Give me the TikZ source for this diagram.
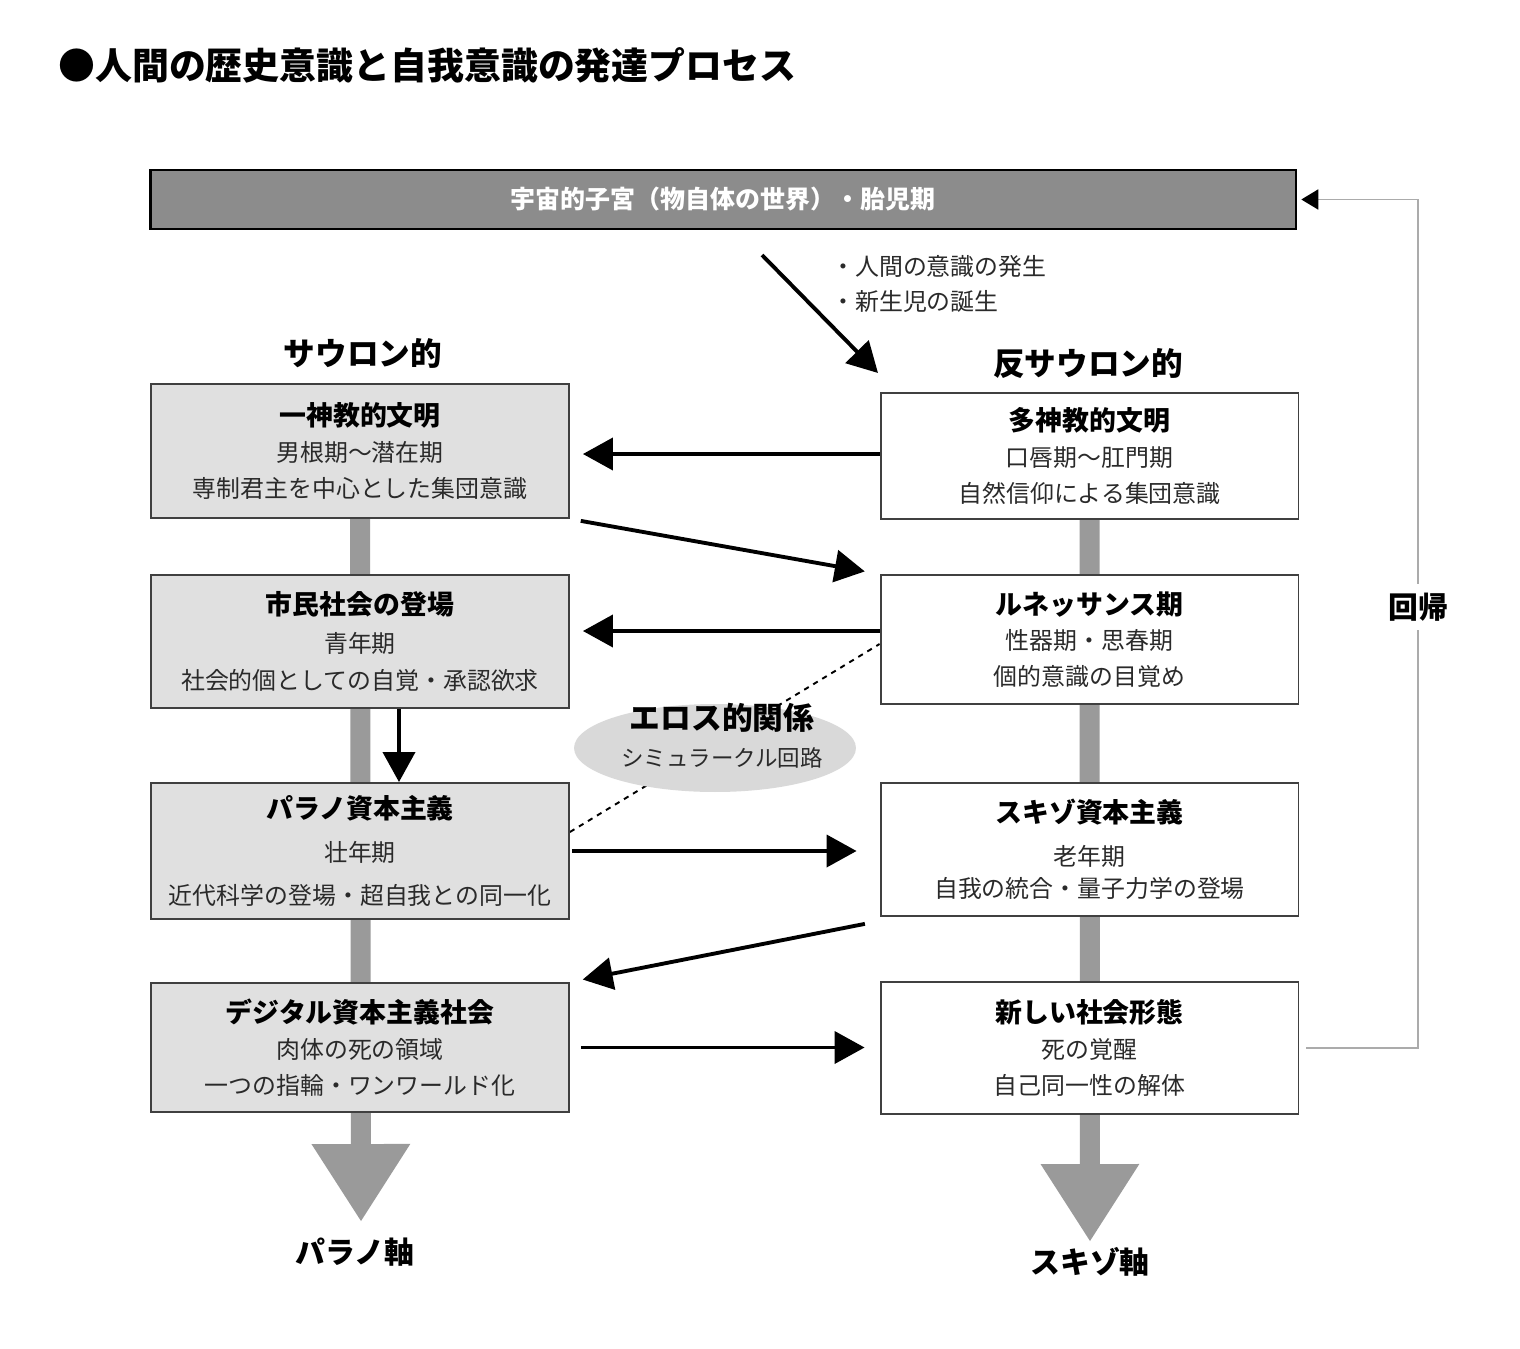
\documentclass[tikz,border=0pt]{standalone}
\usepackage{fontspec}
\setmainfont{Noto Sans CJK JP}
\usetikzlibrary{positioning,arrows.meta,shapes.geometric,backgrounds}

\definecolor{wombgray}{HTML}{8C8C8C}
\definecolor{boxgray}{HTML}{E0E0E0}
\definecolor{axisgray}{HTML}{9A9A9A}
\definecolor{erosgray}{HTML}{D9D9D9}
\definecolor{loopgray}{HTML}{ABABAB}
\definecolor{txtgray}{HTML}{2A2A2A}

\newcommand{\boxtitle}[1]{{\fontsize{15.3pt}{20.5pt}\selectfont\bfseries\color{black}#1}}

\tikzset{
  stage/.style={draw=black!75, line width=1.1pt, minimum width=8.36cm, inner sep=0pt,
    align=center, text=txtgray, font=\fontsize{13.6pt}{20.3pt}\selectfont},
  saurbox/.style={stage, fill=boxgray},
  antibox/.style={stage, fill=white},
  flow/.style={line width=2.2pt, -{Triangle[length=0.6cm,width=0.64cm]}},
  axis/.style={axisgray, line width=0.4cm, -{Triangle[length=1.56cm,width=1.86cm]}},
  colhead/.style={font=\fontsize{18pt}{22pt}\selectfont\bfseries},
  loopline/.style={loopgray, line width=1.1pt},
}

\begin{document}
\begin{tikzpicture}[x=0.02cm, y=-0.02cm]
  \useasboundingbox (0,0) rectangle (1520,1348);

  % title
  \node[anchor=west, inner sep=0pt, font=\fontsize{21pt}{26pt}\selectfont\bfseries]
    (title) at (58,65) {●人間の歴史意識と自我意識の発達プロセス};

  % top bar
  \node[draw=black, line width=1.6pt, fill=wombgray, minimum width=22.92cm, minimum height=1.18cm,
    text=white, font=\fontsize{14.2pt}{16pt}\selectfont\bfseries]
    (womb) at (723,199.5) {宇宙的子宮（物自体の世界）・胎児期};

  \node[anchor=west, align=left, inner sep=0pt, text=txtgray, font=\fontsize{13.6pt}{19.8pt}\selectfont]
    (birthnote) at (831,284) {・人間の意識の発生\\・新生児の誕生};

  % column heads
  \node[colhead] (sauron) at (363,353) {サウロン的};
  \node[colhead] (antisauron) at (1088,363) {反サウロン的};

  % stages
  \node[saurbox, minimum height=2.68cm] (mono) at (360,451)
    {\boxtitle{一神教的文明}\\男根期～潜在期\\専制君主を中心とした集団意識};
  \node[saurbox, minimum height=2.66cm] (civil) at (360,641.5)
    {\boxtitle{市民社会の登場}\\[1pt]青年期\\[1pt]社会的個としての自覚・承認欲求};
  \node[saurbox, minimum height=2.72cm] (parano) at (360,851)
    {\boxtitle{パラノ資本主義}\\[4pt]壮年期\\[4pt]近代科学の登場・超自我との同一化};
  \node[saurbox, minimum height=2.58cm] (digital) at (360,1047.5)
    {\boxtitle{デジタル資本主義社会}\\肉体の死の領域\\一つの指輪・ワンワールド化};

  \node[antibox, minimum height=2.52cm] (poly) at (1089.5,456)
    {\boxtitle{多神教的文明}\\口唇期～肛門期\\自然信仰による集団意識};
  \node[antibox, minimum height=2.58cm] (renai) at (1089.5,639.5)
    {\boxtitle{ルネッサンス期}\\性器期・思春期\\個的意識の目覚め};
  \node[antibox, minimum height=2.66cm] (schizo) at (1089.5,849.5)
    {\boxtitle{スキゾ資本主義}\\[4pt]老年期\\[-2pt]自我の統合・量子力学の登場};
  \node[antibox, minimum height=2.64cm] (newsoc) at (1089.5,1048)
    {\boxtitle{新しい社会形態}\\死の覚醒\\自己同一性の解体};

  % eros
  \node[ellipse, fill=erosgray, minimum width=5.64cm, minimum height=1.76cm, inner sep=0pt]
    (eros) at (715,748) {};
  \node[align=center, inner sep=0pt, text=txtgray, font=\fontsize{12.8pt}{21pt}\selectfont]
    (erostext) at (722,736) {{\fontsize{17.5pt}{21pt}\selectfont\bfseries\color{black}エロス的関係}\\シミュラークル回路};

  % axes
  \coordinate (paratip) at (361,1222);
  \coordinate (schiztip) at (1090,1242);
  \node[colhead, font=\fontsize{17pt}{20pt}\selectfont\bfseries] (paraaxis) at (355,1252) {パラノ軸};
  \node[colhead, font=\fontsize{17pt}{20pt}\selectfont\bfseries] (schizaxis) at (1090,1262) {スキゾ軸};

  \begin{scope}[on background layer]
    \draw[axis] (mono.south) -- (paratip);
    \draw[axis] (poly.south) -- (schiztip);
    \draw[line width=1.1pt, dash pattern=on 3pt off 3pt]
      ([yshift=0.38cm]parano.east) -- ([yshift=-0.09cm]renai.west);
  \end{scope}

  % return
  \node[fill=white, inner ysep=5pt, font=\fontsize{17pt}{20pt}\selectfont\bfseries] (kaiki) at (1418,607) {回帰};
  \draw[loopline] ([xshift=0.14cm]newsoc.east) -| (kaiki.south);
  \draw[loopline, -{Triangle[length=0.34cm,width=0.4cm,color=black]}]
    (kaiki.north) |- ([xshift=0.08cm]womb.east);

  % flows
  \coordinate (birthfrom) at (762,255);
  \coordinate (birthto) at (878,373);
  \draw[flow] (birthfrom) -- (birthto);
  \draw[flow, shorten >=0.26cm] ([yshift=0.04cm]poly.west) -- ([yshift=0.04cm]poly.west -| mono.east);
  \draw[flow, shorten <=0.22cm, shorten >=0.3cm] (mono.south east) -- (renai.north west);
  \draw[flow, shorten >=0.26cm] ([yshift=0.17cm]renai.west) -- ([yshift=0.17cm]renai.west -| civil.east);
  \draw[flow] ([xshift=0.78cm]civil.south) -- ([xshift=0.78cm]parano.north);
  \draw[flow, shorten <=0.04cm, shorten >=0.46cm] (parano.east) -- (parano.east -| schizo.west);
  \draw[flow, shorten <=0.3cm, shorten >=0.26cm] ([yshift=-0.08cm]schizo.south west) -- (digital.north east);
  \foreach \a/\b in {digital/newsoc}
    \draw[flow, shorten <=0.22cm, shorten >=0.3cm] (\a.east) -- (\a.east -| \b.west);
\end{tikzpicture}
\end{document}
